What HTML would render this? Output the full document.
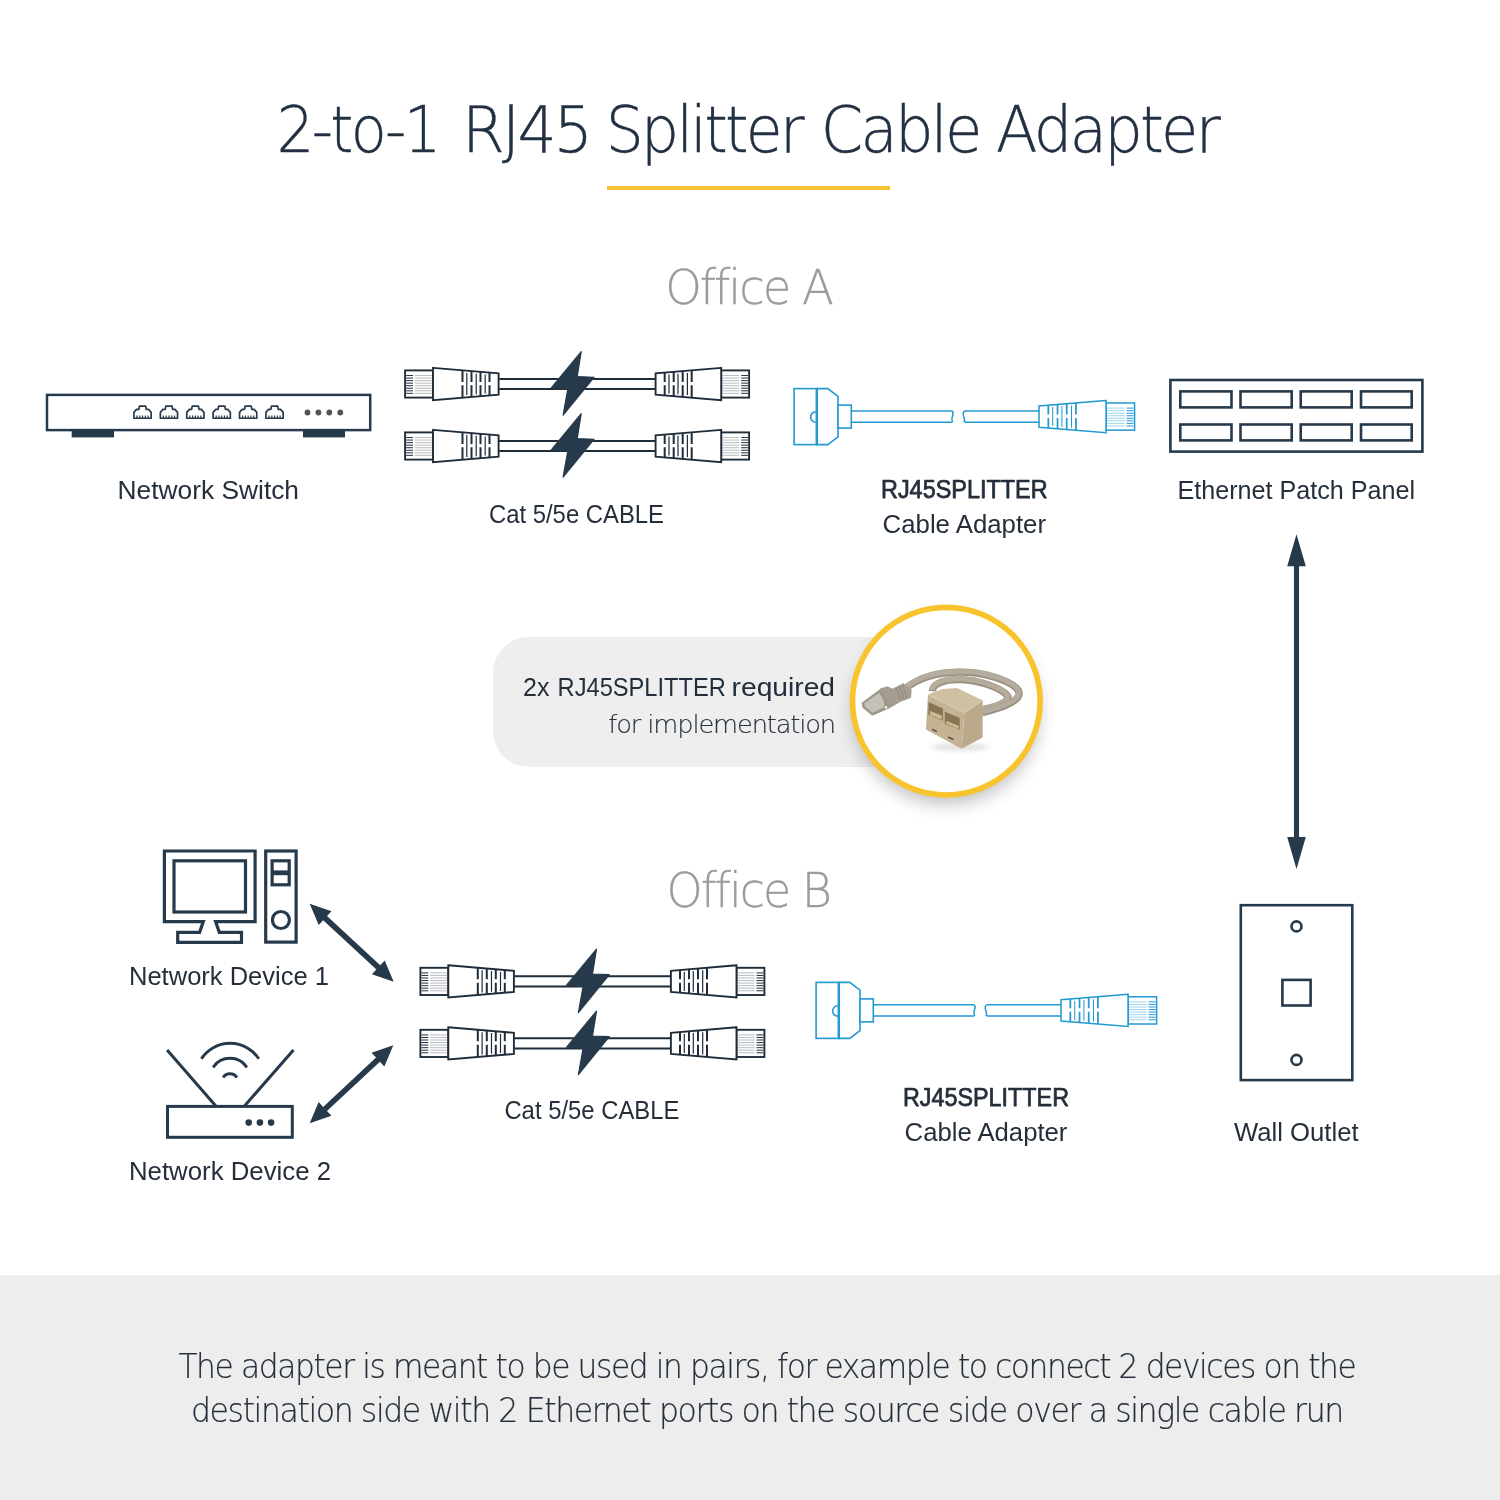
<!DOCTYPE html>
<html lang="en"><head><meta charset="utf-8"><title>2-to-1 RJ45 Splitter Cable Adapter</title>
<style>html,body{margin:0;padding:0;background:#fff}body{width:1500px;height:1500px;overflow:hidden;position:relative}svg{position:absolute;left:0;top:0;display:block}text{white-space:pre}</style></head><body>
<svg width="1500" height="1500" viewBox="0 0 1500 1500">
<defs>
<g id="conn" fill="#fff" stroke="#1f2d3b" stroke-width="1.9" stroke-linejoin="miter">
<rect x="0.9" y="-13.6" width="27.9" height="27.2"/>
<path d="M2 -8.5 H8.8" stroke="#2b3947" stroke-width="1.05"/>
<path d="M10.6 -8.5 H28" stroke="#bcbfc3" stroke-width="1.05"/>
<path d="M2 -5.95 H8.8" stroke="#2b3947" stroke-width="1.05"/>
<path d="M10.6 -5.95 H28" stroke="#bcbfc3" stroke-width="1.05"/>
<path d="M2 -3.4 H8.8" stroke="#2b3947" stroke-width="1.05"/>
<path d="M10.6 -3.4 H28" stroke="#bcbfc3" stroke-width="1.05"/>
<path d="M2 -0.85 H8.8" stroke="#2b3947" stroke-width="1.05"/>
<path d="M10.6 -0.85 H28" stroke="#bcbfc3" stroke-width="1.05"/>
<path d="M2 1.7 H8.8" stroke="#2b3947" stroke-width="1.05"/>
<path d="M10.6 1.7 H28" stroke="#bcbfc3" stroke-width="1.05"/>
<path d="M2 4.25 H8.8" stroke="#2b3947" stroke-width="1.05"/>
<path d="M10.6 4.25 H28" stroke="#bcbfc3" stroke-width="1.05"/>
<path d="M2 6.8 H8.8" stroke="#2b3947" stroke-width="1.05"/>
<path d="M10.6 6.8 H28" stroke="#bcbfc3" stroke-width="1.05"/>
<path d="M2 9.35 H8.8" stroke="#2b3947" stroke-width="1.05"/>
<path d="M10.6 9.35 H28" stroke="#bcbfc3" stroke-width="1.05"/>
<polygon points="28.8,-16.1 94.4,-10.6 94.4,10.6 28.8,16.1"/>
<path d="M58.3 -13.63V-2.1M58.3 1.3V13.63M67.3 -12.87V-2.1M67.3 1.3V12.87M76.3 -12.12V-2.1M76.3 1.3V12.12M85.3 -11.36V-2.1M85.3 1.3V11.36" fill="none" stroke-width="2"/>
<path d="M62.6 -11.07V11.07M72 -10.28V10.28M81 -9.52V9.52" fill="none" stroke-width="1.2"/>
</g>
<g id="connb" fill="#fff" stroke="#2399d2" stroke-width="1.5" stroke-linejoin="miter">
<rect x="0.9" y="-13.6" width="27.9" height="27.2"/>
<path d="M2 -8.5 H8.8" stroke="#2f9fd6" stroke-width="1.05"/>
<path d="M10.6 -8.5 H28" stroke="#a6d6ee" stroke-width="1.05"/>
<path d="M2 -5.95 H8.8" stroke="#2f9fd6" stroke-width="1.05"/>
<path d="M10.6 -5.95 H28" stroke="#a6d6ee" stroke-width="1.05"/>
<path d="M2 -3.4 H8.8" stroke="#2f9fd6" stroke-width="1.05"/>
<path d="M10.6 -3.4 H28" stroke="#a6d6ee" stroke-width="1.05"/>
<path d="M2 -0.85 H8.8" stroke="#2f9fd6" stroke-width="1.05"/>
<path d="M10.6 -0.85 H28" stroke="#a6d6ee" stroke-width="1.05"/>
<path d="M2 1.7 H8.8" stroke="#2f9fd6" stroke-width="1.05"/>
<path d="M10.6 1.7 H28" stroke="#a6d6ee" stroke-width="1.05"/>
<path d="M2 4.25 H8.8" stroke="#2f9fd6" stroke-width="1.05"/>
<path d="M10.6 4.25 H28" stroke="#a6d6ee" stroke-width="1.05"/>
<path d="M2 6.8 H8.8" stroke="#2f9fd6" stroke-width="1.05"/>
<path d="M10.6 6.8 H28" stroke="#a6d6ee" stroke-width="1.05"/>
<path d="M2 9.35 H8.8" stroke="#2f9fd6" stroke-width="1.05"/>
<path d="M10.6 9.35 H28" stroke="#a6d6ee" stroke-width="1.05"/>
<polygon points="28.8,-16.1 94.4,-10.6 94.4,10.6 28.8,16.1"/>
<path d="M58.3 -13.63V-2.1M58.3 1.3V13.63M67.3 -12.87V-2.1M67.3 1.3V12.87M76.3 -12.12V-2.1M76.3 1.3V12.12M85.3 -11.36V-2.1M85.3 1.3V11.36" fill="none" stroke-width="1.7"/>
<path d="M62.6 -11.07V11.07M72 -10.28V10.28M81 -9.52V9.52" fill="none" stroke-width="1"/>
</g>
<polygon id="bolt" points="4.1,-32.3 -25.8,3.8 -9.3,5 -14,31.2 16.9,-6.7 0.1,-7.4" fill="#263a4b" stroke="#263a4b" stroke-width="1.2" stroke-linejoin="round"/>
<g id="cable">
<path d="M-78 -5.1H78M-78 5.1H78" stroke="#1f2d3b" stroke-width="2" fill="none"/>
<use href="#conn" x="-172.9" y="0"/>
<use href="#conn" transform="translate(172.9 0) scale(-1 1)"/>
<use href="#bolt"/>
</g>
<g id="splitter" fill="#fff" stroke="#2399d2" stroke-width="1.6" stroke-linejoin="miter">
<polygon points="23.4,-28 34.4,-28 44.6,-20.3 44.6,20.3 34.4,28 23.4,28"/>
<rect x="0.7" y="-28" width="22.7" height="56"/><path d="M23.4 -28V28" stroke-width="2.5"/>
<path d="M22.4 -4.7A5.2 5.2 0 0 0 22.4 5.7" fill="none"/>
<rect x="44.6" y="-11.5" width="13.3" height="23"/>
<path d="M57.9 -5.6H158.5M57.9 5.6H158.5M171.5 -5.6H245.6M171.5 5.6H245.6" fill="none"/>
<path d="M158.5 -5.6C162.5 -3.5 156 1.5 159.5 5.6M171.5 -5.6C166.5 -3 173.5 2.5 170.5 5.6" fill="none" stroke-width="1.5"/>
<use href="#connb" transform="translate(342.1 0) scale(-1.022 1)"/>
</g>
</defs>
<rect x="0" y="0" width="1500" height="1500" fill="#ffffff"/>
<rect x="0" y="1275" width="1500" height="225" fill="#ededed"/>
<rect x="607" y="186" width="283" height="4" fill="#f6c22f"/>
<g id="switch">
<rect x="71.7" y="430" width="42.3" height="7.4" fill="#263a4b"/>
<rect x="303" y="430" width="42" height="7.4" fill="#263a4b"/>
<rect x="47" y="394.9" width="323.2" height="35.2" fill="#fff" stroke="#263a4b" stroke-width="2.5"/>
<polygon points="133.95,418.25 133.95,412.35 136.55,409.35 138.85,409.35 139.45,406.15 145.65,406.15 146.25,409.35 148.55,409.35 151.15,412.35 151.15,418.25" fill="#fff" stroke="#263a4b" stroke-width="1.7" stroke-linejoin="round"/>
<path d="M137 415.6V418.3M139.8 415.6V418.3M142.55 415.6V418.3M145.3 415.6V418.3M148.1 415.6V418.3" stroke="#263a4b" stroke-width="1.2" fill="none"/>
<polygon points="160.35,418.25 160.35,412.35 162.95,409.35 165.25,409.35 165.85,406.15 172.05,406.15 172.65,409.35 174.95,409.35 177.55,412.35 177.55,418.25" fill="#fff" stroke="#263a4b" stroke-width="1.7" stroke-linejoin="round"/>
<path d="M163.4 415.6V418.3M166.2 415.6V418.3M168.95 415.6V418.3M171.7 415.6V418.3M174.5 415.6V418.3" stroke="#263a4b" stroke-width="1.2" fill="none"/>
<polygon points="186.75,418.25 186.75,412.35 189.35,409.35 191.65,409.35 192.25,406.15 198.45,406.15 199.05,409.35 201.35,409.35 203.95,412.35 203.95,418.25" fill="#fff" stroke="#263a4b" stroke-width="1.7" stroke-linejoin="round"/>
<path d="M189.8 415.6V418.3M192.6 415.6V418.3M195.35 415.6V418.3M198.1 415.6V418.3M200.9 415.6V418.3" stroke="#263a4b" stroke-width="1.2" fill="none"/>
<polygon points="213.15,418.25 213.15,412.35 215.75,409.35 218.05,409.35 218.65,406.15 224.85,406.15 225.45,409.35 227.75,409.35 230.35,412.35 230.35,418.25" fill="#fff" stroke="#263a4b" stroke-width="1.7" stroke-linejoin="round"/>
<path d="M216.2 415.6V418.3M219 415.6V418.3M221.75 415.6V418.3M224.5 415.6V418.3M227.3 415.6V418.3" stroke="#263a4b" stroke-width="1.2" fill="none"/>
<polygon points="239.55,418.25 239.55,412.35 242.15,409.35 244.45,409.35 245.05,406.15 251.25,406.15 251.85,409.35 254.15,409.35 256.75,412.35 256.75,418.25" fill="#fff" stroke="#263a4b" stroke-width="1.7" stroke-linejoin="round"/>
<path d="M242.6 415.6V418.3M245.4 415.6V418.3M248.15 415.6V418.3M250.9 415.6V418.3M253.7 415.6V418.3" stroke="#263a4b" stroke-width="1.2" fill="none"/>
<polygon points="265.95,418.25 265.95,412.35 268.55,409.35 270.85,409.35 271.45,406.15 277.65,406.15 278.25,409.35 280.55,409.35 283.15,412.35 283.15,418.25" fill="#fff" stroke="#263a4b" stroke-width="1.7" stroke-linejoin="round"/>
<path d="M269 415.6V418.3M271.8 415.6V418.3M274.55 415.6V418.3M277.3 415.6V418.3M280.1 415.6V418.3" stroke="#263a4b" stroke-width="1.2" fill="none"/>
<circle cx="307.5" cy="412.5" r="2.9" fill="#555"/>
<circle cx="318.4" cy="412.5" r="2.9" fill="#555"/>
<circle cx="329.3" cy="412.5" r="2.9" fill="#555"/>
<circle cx="340.3" cy="412.5" r="2.9" fill="#555"/>
</g>
<use href="#cable" x="577.1" y="384"/>
<use href="#cable" x="577.1" y="446"/>
<use href="#splitter" x="793.4" y="416.6"/>
<g id="patch" fill="#fff" stroke="#263a4b">
<rect x="1170.4" y="380" width="252" height="71.6" stroke-width="2.6"/>
<rect x="1180.3" y="391.4" width="51.2" height="16" stroke-width="2.6"/>
<rect x="1240.5" y="391.4" width="51.2" height="16" stroke-width="2.6"/>
<rect x="1300.7" y="391.4" width="51" height="16" stroke-width="2.6"/>
<rect x="1361" y="391.4" width="50.7" height="16" stroke-width="2.6"/>
<rect x="1180.3" y="424.5" width="51.2" height="15.9" stroke-width="2.6"/>
<rect x="1240.5" y="424.5" width="51.2" height="15.9" stroke-width="2.6"/>
<rect x="1300.7" y="424.5" width="51" height="15.9" stroke-width="2.6"/>
<rect x="1361" y="424.5" width="50.7" height="15.9" stroke-width="2.6"/>
</g>
<defs><filter id="sh" x="-40%" y="-40%" width="180%" height="180%"><feGaussianBlur stdDeviation="9"/></filter><filter id="sh2" x="-50%" y="-200%" width="200%" height="500%"><feGaussianBlur stdDeviation="2.5"/></filter><clipPath id="cc"><circle cx="946.3" cy="701.2" r="91.5"/></clipPath></defs>
<rect x="493" y="637" width="470" height="130" rx="36" ry="36" fill="#eeeeee"/>
<circle cx="946.3" cy="711" r="93" fill="#000" opacity="0.25" filter="url(#sh)"/>
<circle cx="946.3" cy="701.2" r="93.85" fill="#fff" stroke="#f8c32c" stroke-width="5.7"/>
<g clip-path="url(#cc)">
<ellipse cx="960" cy="747" rx="30" ry="3.5" fill="#000" opacity="0.12" filter="url(#sh2)"/>
<path d="M932.2 691.27C932.67 683.33 944.8 679.13 960.67 679.6C979.34 680.07 1000.8 688 1007.34 695.47C1011.07 701.07 998 706.67 982.14 709.47" fill="none" stroke="#9a9182" stroke-width="7.3" stroke-linecap="butt"/><path d="M932.2 691.27C932.67 683.33 944.8 679.13 960.67 679.6C979.34 680.07 1000.8 688 1007.34 695.47C1011.07 701.07 998 706.67 982.14 709.47" fill="none" stroke="#b5ac9d" stroke-width="5.1" stroke-linecap="butt" transform="translate(-0.3 -0.8)"/>
<path d="M905.6 688.47C918.67 677.73 937.33 672.6 957.87 672.13C984 671.67 1012 680.53 1018.54 690.8C1022.27 699.2 1007.34 706.67 982.14 712.73" fill="none" stroke="#9a9182" stroke-width="7.3" stroke-linecap="butt"/><path d="M905.6 688.47C918.67 677.73 937.33 672.6 957.87 672.13C984 671.67 1012 680.53 1018.54 690.8C1022.27 699.2 1007.34 706.67 982.14 712.73" fill="none" stroke="#b5ac9d" stroke-width="5.1" stroke-linecap="butt" transform="translate(-0.3 -0.8)"/>
<polygon points="928,694.53 942,688.93 956.93,688 982.6,700.13 964.4,712.73" fill="#d0c0a3"/>
<polygon points="964.4,712.73 982.6,700.13 982.6,737.47 961.6,748.67" fill="#bba98c"/>
<polygon points="928,694.53 964.4,712.73 961.6,748.67 925.95,729.54" fill="#c4b294"/>
<path d="M928 694.72L964.4 712.83 982.6 700.32" fill="none" stroke="#dccfb5" stroke-width="0.9"/>
<polygon points="928.47,702 942.93,708.53 942.93,720.85 928.47,714.79" fill="#8a7456"/>
<polygon points="930.05,710.87 941.81,715.81 941.81,719.73 930.05,714.88" fill="#cdb98f"/>
<polygon points="944.8,711.8 959.73,718.05 959.73,729.72 944.8,723.66" fill="#8a7456"/>
<polygon points="946.39,720.67 958.61,725.71 958.61,728.88 946.39,723.84" fill="#cdb98f"/>
<polygon points="932.2,728.6 937.05,730.75 937.05,732.34 932.2,730.19" fill="#5f4f3a"/>
<polygon points="948.07,736.35 953.39,738.59 953.39,740.27 948.07,738.03" fill="#5f4f3a"/>
<polygon points="881.33,688.33 887.33,686.33 892.67,688.67 903.33,683.33 911.67,690 911,697.67 900.67,701.87 890,708 884.67,700" fill="#a59d8f"/>
<path d="M896 687L900.67 700M899 685.67L904 699M902 684.33L907.33 698" fill="none" stroke="#8b8374" stroke-width="0.8"/>
<polygon points="861.67,702.67 881.33,688.33 887.33,697.33 890,708 872.33,715.67 862.33,707.47" fill="#9d978c"/>
<polygon points="864.33,703.33 879.33,692.67 883.33,700 884.67,706.67 872.67,712.67 865,706.67" fill="#c4c1b8"/>
<path d="M882 689.33L888.33 697.33" fill="none" stroke="#a59d8f" stroke-width="3.2" stroke-linecap="round"/>
<circle cx="886" cy="707.47" r="1.2" fill="#fff"/>
</g>
<polygon points="1296.5,534.3 1287.2,566.3 1293.95,566.3 1293.95,836.9 1287.2,836.9 1296.5,868.9 1305.8,836.9 1299.05,836.9 1299.05,566.3 1305.8,566.3" fill="#263a4b"/>
<g id="pc" fill="none" stroke="#263a4b" stroke-width="3.2" stroke-linejoin="miter">
<path d="M203.3 921.6H164.4V851H255.1V921.6H215.6L219.3 932.3H241.5V942.4H177.7V932.3H199.6Z" fill="#fff"/>
<rect x="174" y="860.8" width="71.5" height="51.2"/>
<rect x="265.7" y="851" width="30.4" height="91.1" fill="#fff"/>
<rect x="272.1" y="860.8" width="17.1" height="24"/>
<path d="M272.1 872.8H289.2" stroke-width="4.8"/>
<circle cx="280.9" cy="920" r="8.5"/>
</g>
<g id="router" fill="none" stroke="#263a4b" stroke-width="3">
<path d="M167.1 1050L215.6 1105.7M293.5 1050.1L244.7 1105.7"/>
<rect x="167.5" y="1106.4" width="124.8" height="30.9" fill="#fff"/>
<path d="M201.4 1058.8A34.3 34.3 0 0 1 258.8 1058.8"/>
<path d="M213.1 1067.3A20.4 20.4 0 0 1 246.9 1067.3"/>
<path d="M223.1 1077.5A8.2 8.2 0 0 1 236.9 1077.5"/>
<circle cx="248.7" cy="1122.6" r="3.3" fill="#263a4b" stroke="none"/>
<circle cx="259.9" cy="1122.6" r="3.3" fill="#263a4b" stroke="none"/>
<circle cx="271.1" cy="1122.6" r="3.3" fill="#263a4b" stroke="none"/>
</g>
<polygon points="309.7,903.8 318.71,924.97 323.19,920.13 376.4,969.47 371.91,974.31 393.7,981.7 384.69,960.53 380.21,965.37 327,916.03 331.49,911.19" fill="#263a4b"/>
<polygon points="393.3,1045.3 371.53,1052.75 376.04,1057.58 323.14,1106.93 318.64,1102.1 309.7,1123.3 331.47,1115.85 326.96,1111.02 379.86,1061.67 384.36,1066.5" fill="#263a4b"/>
<use href="#cable" x="592.4" y="981.4"/>
<use href="#cable" x="592.4" y="1043.4"/>
<use href="#splitter" x="815.4" y="1010.4"/>
<g id="outlet" fill="#fff" stroke="#263a4b" stroke-width="2.6">
<rect x="1240.8" y="905.2" width="111.5" height="174.9"/>
<rect x="1282.4" y="979.9" width="28.2" height="25.6"/>
<circle cx="1296.5" cy="926.4" r="5"/>
<circle cx="1296.5" cy="1059.9" r="5"/>
</g>
<g opacity="0.999"><text y="152.3" font-family="'DejaVu Sans','Liberation Sans',sans-serif" font-size="64.9" font-weight="200" letter-spacing="-2.92" stroke="#223042" stroke-width="0.39" fill="#223042"><tspan x="276.84" textLength="161.7" lengthAdjust="spacingAndGlyphs">2-to-1</tspan> <tspan x="462.08" textLength="128.18" lengthAdjust="spacingAndGlyphs">RJ45</tspan> <tspan x="605.76" textLength="196.21" lengthAdjust="spacingAndGlyphs">Splitter</tspan> <tspan x="820.65" textLength="159" lengthAdjust="spacingAndGlyphs">Cable</tspan> <tspan x="996.01" textLength="222" lengthAdjust="spacingAndGlyphs">Adapter</tspan></text>
<text x="665.17" y="303.5" textLength="166.62" lengthAdjust="spacingAndGlyphs" font-family="'DejaVu Sans','Liberation Sans',sans-serif" font-size="48.7" font-weight="200" letter-spacing="-2.19" stroke="#9b9b9b" stroke-width="0.29" fill="#9b9b9b">Office A</text>
<text x="666.53" y="907.2" textLength="163.47" lengthAdjust="spacingAndGlyphs" font-family="'DejaVu Sans','Liberation Sans',sans-serif" font-size="48.7" font-weight="200" letter-spacing="-2.19" stroke="#9b9b9b" stroke-width="0.29" fill="#9b9b9b">Office B</text>
<text x="117.59" y="498.8" textLength="181.43" lengthAdjust="spacingAndGlyphs" font-family="'Liberation Sans',sans-serif" font-size="25" font-weight="400" fill="#252f3b">Network Switch</text>
<text x="488.99" y="522.8" textLength="175.01" lengthAdjust="spacingAndGlyphs" font-family="'Liberation Sans',sans-serif" font-size="25" font-weight="400" fill="#252f3b">Cat 5/5e CABLE</text>
<text x="880.99" y="498" textLength="166.62" lengthAdjust="spacingAndGlyphs" font-family="'Liberation Sans',sans-serif" font-size="25" font-weight="400" stroke="#252f3b" stroke-width="0.75" stroke-linejoin="round" fill="#252f3b">RJ45SPLITTER</text>
<text x="882.6" y="532.8" textLength="163.4" lengthAdjust="spacingAndGlyphs" font-family="'Liberation Sans',sans-serif" font-size="25" font-weight="400" fill="#252f3b">Cable Adapter</text>
<text x="1177.59" y="498.8" textLength="237.42" lengthAdjust="spacingAndGlyphs" font-family="'Liberation Sans',sans-serif" font-size="25" font-weight="400" fill="#252f3b">Ethernet Patch Panel</text>
<text y="696.1" font-family="'Liberation Sans',sans-serif" font-size="25.8" font-weight="400" fill="#232e3c"><tspan x="522.99" textLength="26.42" lengthAdjust="spacingAndGlyphs">2x</tspan> <tspan x="557.59" textLength="168.23" lengthAdjust="spacingAndGlyphs">RJ45SPLITTER</tspan> <tspan x="731.59" textLength="103.43" lengthAdjust="spacingAndGlyphs">required</tspan></text>
<text x="608.39" y="733.3" textLength="226.61" lengthAdjust="spacingAndGlyphs" font-family="'DejaVu Sans','Liberation Sans',sans-serif" font-size="25" font-weight="200" letter-spacing="-1.12" stroke="#2a3440" stroke-width="0.15" fill="#2a3440">for implementation</text>
<text x="128.99" y="984.8" textLength="200.02" lengthAdjust="spacingAndGlyphs" font-family="'Liberation Sans',sans-serif" font-size="25" font-weight="400" fill="#252f3b">Network Device 1</text>
<text x="128.99" y="1180" textLength="202.02" lengthAdjust="spacingAndGlyphs" font-family="'Liberation Sans',sans-serif" font-size="25" font-weight="400" fill="#252f3b">Network Device 2</text>
<text x="504.4" y="1119.2" textLength="175.01" lengthAdjust="spacingAndGlyphs" font-family="'Liberation Sans',sans-serif" font-size="25" font-weight="400" fill="#252f3b">Cat 5/5e CABLE</text>
<text x="902.99" y="1106" textLength="166.02" lengthAdjust="spacingAndGlyphs" font-family="'Liberation Sans',sans-serif" font-size="25" font-weight="400" stroke="#252f3b" stroke-width="0.75" stroke-linejoin="round" fill="#252f3b">RJ45SPLITTER</text>
<text x="904.6" y="1140.8" textLength="162.8" lengthAdjust="spacingAndGlyphs" font-family="'Liberation Sans',sans-serif" font-size="25" font-weight="400" fill="#252f3b">Cable Adapter</text>
<text x="1234" y="1140.8" textLength="124.6" lengthAdjust="spacingAndGlyphs" font-family="'Liberation Sans',sans-serif" font-size="25" font-weight="400" fill="#252f3b">Wall Outlet</text>
<text x="178.4" y="1378" textLength="1177" lengthAdjust="spacingAndGlyphs" font-family="'DejaVu Sans','Liberation Sans',sans-serif" font-size="33.6" font-weight="200" letter-spacing="-1.51" stroke="#242e3a" stroke-width="0.2" fill="#242e3a">The adapter is meant to be used in pairs, for example to connect 2 devices on the</text>
<text x="191" y="1421.5" textLength="1151.81" lengthAdjust="spacingAndGlyphs" font-family="'DejaVu Sans','Liberation Sans',sans-serif" font-size="33.6" font-weight="200" letter-spacing="-1.51" stroke="#242e3a" stroke-width="0.2" fill="#242e3a">destination side with 2 Ethernet ports on the source side over a single cable run</text></g>
</svg></body></html>
